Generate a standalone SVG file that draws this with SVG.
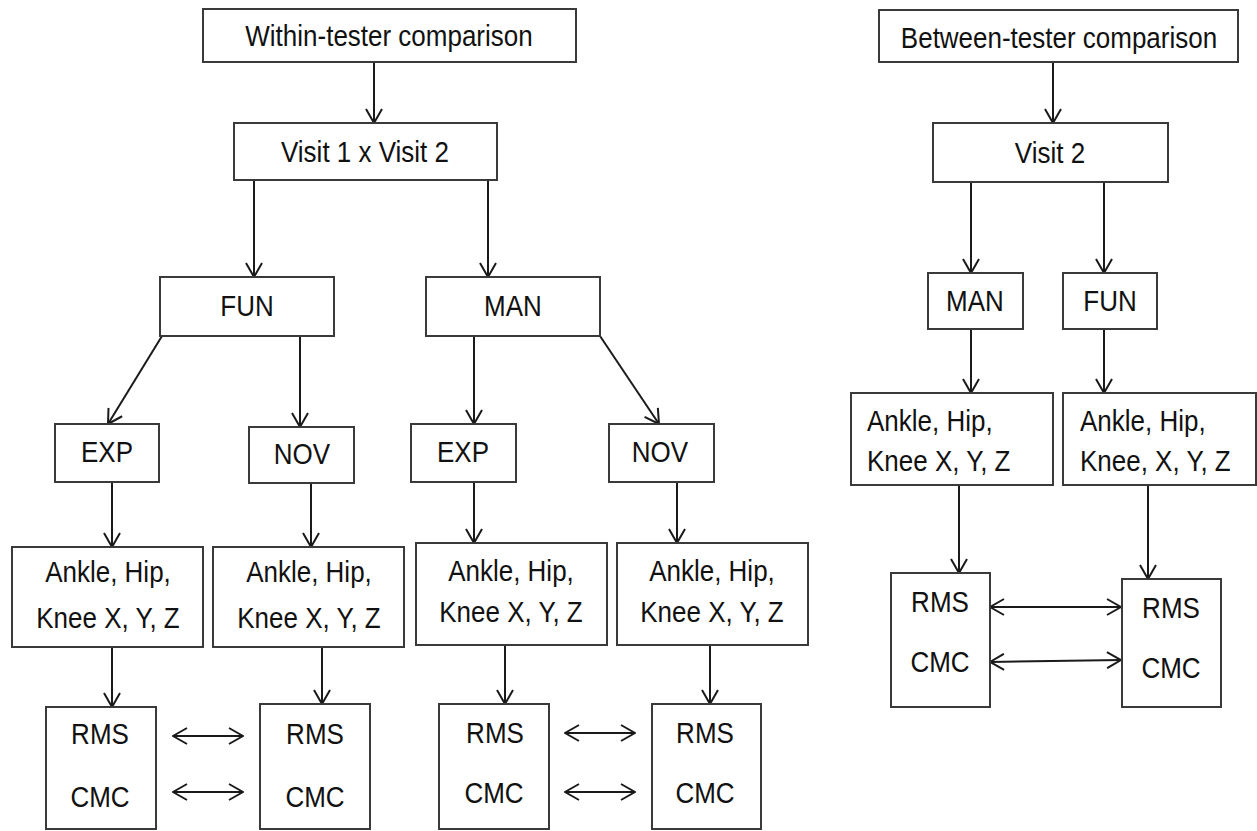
<svg xmlns="http://www.w3.org/2000/svg" width="1257" height="831" viewBox="0 0 1257 831">
<style>
.box{fill:#fff;stroke:#3a3a3a;stroke-width:2}
.t{font-family:"Liberation Sans",Arial,sans-serif;font-size:26px;fill:#111;text-anchor:middle}
.tl{font-family:"Liberation Sans",Arial,sans-serif;font-size:26px;fill:#111}
.c{stroke:#1a1a1a;stroke-width:2;fill:none}
.a{marker-end:url(#ah)}
.d{marker-end:url(#ah);marker-start:url(#ah)}
</style>
<defs>
<marker id="ah" markerUnits="userSpaceOnUse" viewBox="0 0 16 18" markerWidth="16" markerHeight="18" refX="15" refY="9" orient="auto-start-reverse">
<path d="M1,1 L15,9 L1,17" fill="none" stroke="#1a1a1a" stroke-width="2"/>
</marker>
</defs>
<rect width="1257" height="831" fill="#fff"/>
<g id="connectors">
<line class="c a" x1="374" y1="62" x2="374" y2="123"/>
<line class="c a" x1="254" y1="180" x2="254" y2="277"/>
<line class="c a" x1="488" y1="180" x2="488" y2="277"/>
<line class="c a" x1="162" y1="336" x2="108" y2="424"/>
<line class="c a" x1="300" y1="336" x2="300" y2="427"/>
<line class="c a" x1="474" y1="336" x2="474" y2="424"/>
<line class="c a" x1="600" y1="336" x2="659" y2="424"/>
<line class="c a" x1="112" y1="482" x2="112" y2="547"/>
<line class="c a" x1="311" y1="483" x2="311" y2="547"/>
<line class="c a" x1="474" y1="482" x2="474" y2="543"/>
<line class="c a" x1="677" y1="482" x2="677" y2="543"/>
<line class="c a" x1="112" y1="647" x2="112" y2="707"/>
<line class="c a" x1="322" y1="637" x2="322" y2="704"/>
<line class="c a" x1="505" y1="637" x2="505" y2="704"/>
<line class="c a" x1="710" y1="637" x2="710" y2="704"/>
<line class="c d" x1="173" y1="736" x2="243" y2="736"/>
<line class="c d" x1="173" y1="792" x2="243" y2="792"/>
<line class="c d" x1="565" y1="733" x2="635" y2="733"/>
<line class="c d" x1="565" y1="792" x2="635" y2="792"/>
<line class="c a" x1="1053" y1="62" x2="1053" y2="123"/>
<line class="c a" x1="971" y1="182" x2="971" y2="273"/>
<line class="c a" x1="1104" y1="182" x2="1104" y2="273"/>
<line class="c a" x1="971" y1="329" x2="971" y2="393"/>
<line class="c a" x1="1104" y1="329" x2="1104" y2="393"/>
<line class="c a" x1="959" y1="485" x2="959" y2="573"/>
<line class="c a" x1="1148" y1="485" x2="1148" y2="579"/>
<line class="c d" x1="990" y1="607" x2="1121" y2="607"/>
<line class="c d" x1="990" y1="662" x2="1121" y2="660"/>
</g>
<g id="within"><rect class="box" x="203" y="9" width="373" height="53"/><text class="t" x="389" y="46" transform="matrix(1,0,0,1.15,0,-6.9)">Within-tester comparison</text></g>
<g id="visit12"><rect class="box" x="234" y="123" width="263" height="57"/><text class="t" x="365" y="162" transform="matrix(1,0,0,1.15,0,-24.3)">Visit 1 x Visit 2</text></g>
<g id="fun1"><rect class="box" x="160" y="277" width="174" height="59"/><text class="t" x="247" y="316" transform="matrix(1,0,0,1.15,0,-47.4)">FUN</text></g>
<g id="man1"><rect class="box" x="426" y="277" width="174" height="59"/><text class="t" x="513" y="316" transform="matrix(1,0,0,1.15,0,-47.4)">MAN</text></g>
<g id="exp1"><rect class="box" x="55" y="424" width="104" height="58"/><text class="t" x="107" y="462" transform="matrix(1,0,0,1.15,0,-69.3)">EXP</text></g>
<g id="nov1"><rect class="box" x="249" y="427" width="105" height="56"/><text class="t" x="302" y="464" transform="matrix(1,0,0,1.15,0,-69.6)">NOV</text></g>
<g id="exp2"><rect class="box" x="411" y="424" width="105" height="58"/><text class="t" x="463" y="462" transform="matrix(1,0,0,1.15,0,-69.3)">EXP</text></g>
<g id="nov2"><rect class="box" x="609" y="424" width="105" height="58"/><text class="t" x="660" y="462" transform="matrix(1,0,0,1.15,0,-69.3)">NOV</text></g>
<g id="joints1"><rect class="box" x="12" y="547" width="191" height="100"/><text class="t" x="108" y="582" transform="matrix(1,0,0,1.15,0,-87.3)">Ankle, Hip,</text><text class="t" x="108" y="628" transform="matrix(1,0,0,1.15,0,-94.2)">Knee X, Y, Z</text></g>
<g id="joints2"><rect class="box" x="213" y="547" width="191" height="100"/><text class="t" x="309" y="582" transform="matrix(1,0,0,1.15,0,-87.3)">Ankle, Hip,</text><text class="t" x="309" y="628" transform="matrix(1,0,0,1.15,0,-94.2)">Knee X, Y, Z</text></g>
<g id="joints3"><rect class="box" x="416" y="543" width="191" height="102"/><text class="t" x="511" y="581" transform="matrix(1,0,0,1.15,0,-87.15)">Ankle, Hip,</text><text class="t" x="511" y="622" transform="matrix(1,0,0,1.15,0,-93.3)">Knee X, Y, Z</text></g>
<g id="joints4"><rect class="box" x="617" y="543" width="191" height="102"/><text class="t" x="712" y="581" transform="matrix(1,0,0,1.15,0,-87.15)">Ankle, Hip,</text><text class="t" x="712" y="622" transform="matrix(1,0,0,1.15,0,-93.3)">Knee X, Y, Z</text></g>
<g id="res1"><rect class="box" x="46" y="707" width="110" height="122"/><text class="t" x="100" y="744" transform="matrix(1,0,0,1.15,0,-111.6)">RMS</text><text class="t" x="100" y="807" transform="matrix(1,0,0,1.15,0,-121.05)">CMC</text></g>
<g id="res2"><rect class="box" x="260" y="704" width="110" height="125"/><text class="t" x="315" y="744" transform="matrix(1,0,0,1.15,0,-111.6)">RMS</text><text class="t" x="315" y="807" transform="matrix(1,0,0,1.15,0,-121.05)">CMC</text></g>
<g id="res3"><rect class="box" x="439" y="704" width="110" height="125"/><text class="t" x="495" y="743" transform="matrix(1,0,0,1.15,0,-111.45)">RMS</text><text class="t" x="494" y="803" transform="matrix(1,0,0,1.15,0,-120.45)">CMC</text></g>
<g id="res4"><rect class="box" x="652" y="704" width="109" height="125"/><text class="t" x="705" y="743" transform="matrix(1,0,0,1.15,0,-111.45)">RMS</text><text class="t" x="705" y="803" transform="matrix(1,0,0,1.15,0,-120.45)">CMC</text></g>
<g id="between"><rect class="box" x="879" y="10" width="359" height="52"/><text class="t" x="1059" y="48" transform="matrix(1,0,0,1.15,0,-7.2)">Between-tester comparison</text></g>
<g id="visit2"><rect class="box" x="933" y="123" width="235" height="59"/><text class="t" x="1050" y="163" transform="matrix(1,0,0,1.15,0,-24.45)">Visit 2</text></g>
<g id="man2"><rect class="box" x="928" y="273" width="95" height="56"/><text class="t" x="975" y="311" transform="matrix(1,0,0,1.15,0,-46.65)">MAN</text></g>
<g id="fun2"><rect class="box" x="1063" y="273" width="94" height="56"/><text class="t" x="1110" y="311" transform="matrix(1,0,0,1.15,0,-46.65)">FUN</text></g>
<g id="joints5"><rect class="box" x="851" y="393" width="202" height="92"/><text class="tl" x="867" y="431" transform="matrix(1,0,0,1.15,0,-64.65)">Ankle, Hip,</text><text class="tl" x="867" y="471" transform="matrix(1,0,0,1.15,0,-70.65)">Knee X, Y, Z</text></g>
<g id="joints6"><rect class="box" x="1063" y="393" width="193" height="92"/><text class="tl" x="1080" y="431" transform="matrix(1,0,0,1.15,0,-64.65)">Ankle, Hip,</text><text class="tl" x="1080" y="471" transform="matrix(1,0,0,1.15,0,-70.65)">Knee, X, Y, Z</text></g>
<g id="res5"><rect class="box" x="891" y="573" width="99" height="134"/><text class="t" x="940" y="612" transform="matrix(1,0,0,1.15,0,-91.8)">RMS</text><text class="t" x="940" y="672" transform="matrix(1,0,0,1.15,0,-100.8)">CMC</text></g>
<g id="res6"><rect class="box" x="1122" y="579" width="99" height="128"/><text class="t" x="1171" y="618" transform="matrix(1,0,0,1.15,0,-92.7)">RMS</text><text class="t" x="1171" y="678" transform="matrix(1,0,0,1.15,0,-101.7)">CMC</text></g>
</svg>
